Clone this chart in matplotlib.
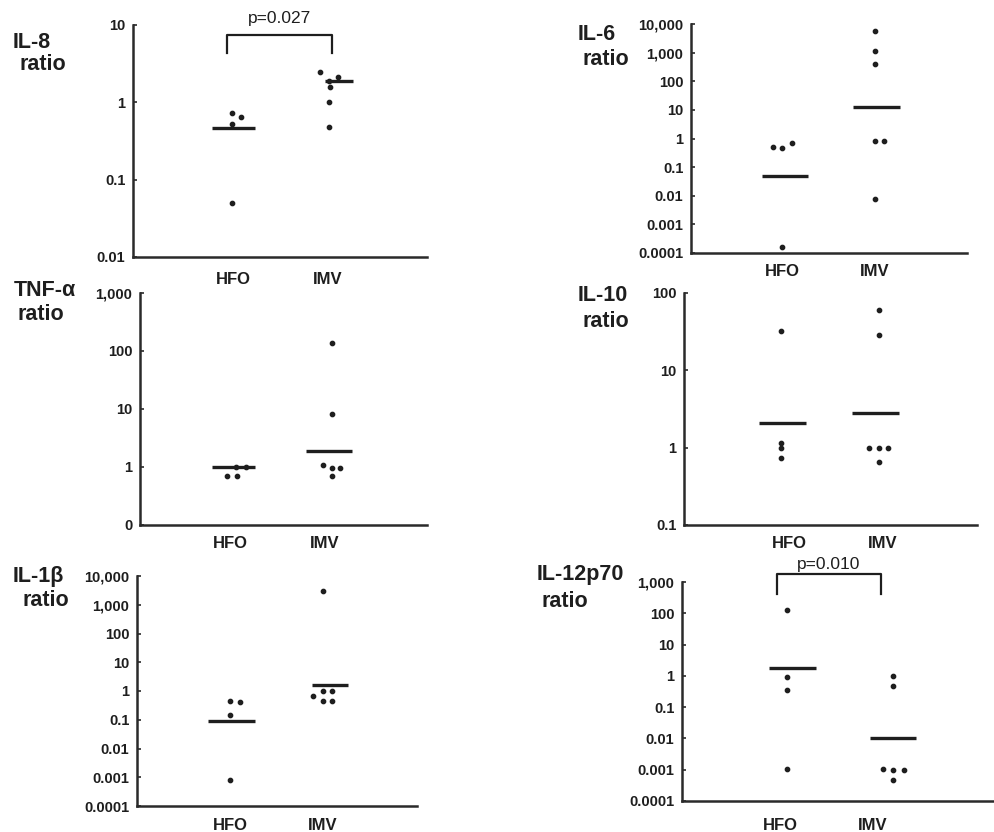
import matplotlib
matplotlib.use("Agg")
import matplotlib.pyplot as plt
from matplotlib.ticker import FixedLocator, FixedFormatter, NullLocator

plt.rcParams['font.family'] = ['Liberation Sans', 'DejaVu Sans']

W, H = 995, 832
groups = ["HFO", "IMV"]

# ---- data: individual ratios and group medians ----
il8_hfo = [0.72, 0.65, 0.53, 0.05]
il8_imv = [2.5, 2.1, 1.9, 1.6, 1.0, 0.48]
il8_med = [0.46, 1.89]

il6_hfo = [0.52, 0.48, 0.67, 0.00016]
il6_imv = [5700, 1170, 410, 0.79, 0.79, 0.0079]
il6_med = [0.049, 12.6]

tnf_hfo = [1.0, 1.0, 0.70, 0.70]
tnf_imv = [137, 8.2, 1.1, 0.95, 0.95, 0.70]
tnf_med = [1.0, 1.89]

il10_hfo = [32, 1.16, 1.0, 0.74]
il10_imv = [60, 28.5, 1.0, 1.0, 1.0, 0.66]
il10_med = [2.1, 2.77]

il1b_hfo = [0.45, 0.41, 0.15, 0.0008]
il1b_imv = [3080, 1.0, 1.0, 0.67, 0.46, 0.46]
il1b_med = [0.092, 1.6]

il12_hfo = [125, 0.95, 0.36, 0.00108]
il12_imv = [1.0, 0.48, 0.00108, 0.001, 0.001, 0.00048]
il12_med = [1.8, 0.01]

ticks_4to4 = [1e-4, 1e-3, 1e-2, 1e-1, 1, 10, 100, 1000, 10000]
labels_4to4 = ["0.0001", "0.001", "0.01", "0.1", "1", "10", "100", "1,000", "10,000"]
ticks_il8 = [0.01, 0.1, 1, 10]
labels_il8 = ["0.01", "0.1", "1", "10"]
ticks_tnf = [0.1, 1, 10, 100, 1000]
labels_tnf = ["0", "1", "10", "100", "1,000"]
ticks_il10 = [0.1, 1, 10, 100]
labels_il10 = ["0.1", "1", "10", "100"]
ticks_il12 = [1e-4, 1e-3, 1e-2, 1e-1, 1, 10, 100, 1000]
labels_il12 = ["0.0001", "0.001", "0.01", "0.1", "1", "10", "100", "1,000"]

p_il8 = "p=0.027"
p_il12 = "p=0.010"

# ---- layout (pixels) ----
panels = [
    dict(name="IL-8", box=(133, 427, 25, 257), cx=(233, 328),
         hfo=il8_hfo, imv=il8_imv, med=il8_med,
         dx_h=[-1, 8, -1, -1], dx_i=[-8, 10, 1, 2, 1, 1],
         line_h=(212, 255), line_i=(325, 353),
         ylim=(0.01, 10), ticks=ticks_il8, tlabels=labels_il8,
         title_pos=(13, 48), ratio_pos=(20, 70), xl_off=23),
    dict(name="IL-6", box=(691, 967, 24, 253), cx=(782, 875),
         hfo=il6_hfo, imv=il6_imv, med=il6_med,
         dx_h=[-9, 0, 10, 0], dx_i=[0, 0, 0, 0, 9, 0],
         line_h=(762, 808), line_i=(853, 900),
         ylim=(1e-4, 1e4), ticks=ticks_4to4, tlabels=labels_4to4,
         title_pos=(578, 40), ratio_pos=(583, 65), xl_off=19),
    dict(name="TNF-α", box=(140, 427, 293, 525), cx=(230, 325),
         hfo=tnf_hfo, imv=tnf_imv, med=tnf_med,
         dx_h=[6, 16, -3, 7], dx_i=[7, 7, -2, 7, 15, 7],
         line_h=(212, 255), line_i=(306, 352),
         ylim=(0.1, 1000), ticks=ticks_tnf, tlabels=labels_tnf,
         title_pos=(14, 296), ratio_pos=(18, 320), xl_off=18),
    dict(name="IL-10", box=(684, 977, 293, 525), cx=(789, 883),
         hfo=il10_hfo, imv=il10_imv, med=il10_med,
         dx_h=[-8, -8, -8, -8], dx_i=[-4, -4, -14, -4, 5, -4],
         line_h=(759, 806), line_i=(852, 899),
         ylim=(0.1, 100), ticks=ticks_il10, tlabels=labels_il10,
         title_pos=(578, 301), ratio_pos=(583, 327), xl_off=18),
    dict(name="IL-1β", box=(137, 417, 576, 806), cx=(230, 323),
         hfo=il1b_hfo, imv=il1b_imv, med=il1b_med,
         dx_h=[0, 10, 0, 0], dx_i=[0, 0, 9, -10, 0, 9],
         line_h=(208, 255), line_i=(312, 348),
         ylim=(1e-4, 1e4), ticks=ticks_4to4, tlabels=labels_4to4,
         title_pos=(13, 582), ratio_pos=(22, 606), xl_off=20),
    dict(name="IL-12p70", box=(682, 995, 582, 801), cx=(780, 873),
         hfo=il12_hfo, imv=il12_imv, med=il12_med,
         dx_h=[7, 7, 7, 7], dx_i=[20, 20, 10, 20, 31, 20],
         line_h=(769, 816), line_i=(870, 916),
         ylim=(1e-4, 1e3), ticks=ticks_il12, tlabels=labels_il12,
         title_pos=(537, 580), ratio_pos=(542, 607), xl_off=24),
]

ink = "#1e1e1e"
fig = plt.figure(figsize=(W / 100, H / 100), dpi=100)
fig.patch.set_facecolor("white")

axes = []
for p in panels:
    L, R, T, B = p["box"]
    ax = fig.add_axes([L / W, 1 - B / H, (R - L) / W, (B - T) / H])
    axes.append(ax)
    hx, ix = p["cx"]
    unit = ix - hx
    ax.set_xlim((L - hx) / unit, 1 + (R - ix) / unit)
    ax.set_yscale("log")
    ax.set_ylim(*p["ylim"])
    ax.yaxis.set_major_locator(FixedLocator(p["ticks"]))
    ax.yaxis.set_major_formatter(FixedFormatter(p["tlabels"]))
    ax.yaxis.set_minor_locator(NullLocator())
    ax.set_xticks([])
    for s in ("top", "right"):
        ax.spines[s].set_visible(False)
    for s in ("left", "bottom"):
        ax.spines[s].set_linewidth(1.8)
        ax.spines[s].set_color("#2a2a2a")
    ax.tick_params(axis="y", direction="in", length=3, width=1.2, color="#2a2a2a",
                   pad=5.5, labelsize=10.5, labelcolor=ink)
    for lab in ax.get_yticklabels():
        lab.set_fontweight("bold")
    ax.patch.set_alpha(0)

    # individual points
    for gi, (vals, dxs) in enumerate(((p["hfo"], p["dx_h"]), (p["imv"], p["dx_i"]))):
        xs = [gi + d / unit for d in dxs]
        ax.plot(xs, vals, linestyle="none", marker="o", ms=3.1,
                mfc=ink, mec=ink, clip_on=False, zorder=3)
    # medians
    for gi, (x0, x1), c in ((0, p["line_h"], hx), (1, p["line_i"], ix)):
        ax.plot([gi + (x0 - c) / unit, gi + (x1 - c) / unit],
                [p["med"][gi]] * 2, color=ink, lw=2.4, solid_capstyle="butt",
                clip_on=False, zorder=2)
    # group labels
    for gi, g in enumerate(groups):
        ax.annotate(g, xy=(gi, 0), xycoords=("data", "axes fraction"),
                    xytext=(0, -p["xl_off"] * 0.72), textcoords="offset points",
                    ha="center", va="center", fontsize=12, fontweight="bold",
                    color=ink)
    # panel title
    tx, ty = p["title_pos"]
    fig.text(tx / W, 1 - ty / H, p["name"], fontsize=15.5, fontweight="bold",
             color=ink, ha="left", va="baseline")
    rx, ry = p["ratio_pos"]
    fig.text(rx / W, 1 - ry / H, "ratio", fontsize=15.5, fontweight="bold",
             color=ink, ha="left", va="baseline")


def bracket(ax, p, x0px, x1px, ytop, ybot, label, ty):
    L, R, T, B = p["box"]
    hx, ix = p["cx"]
    unit = ix - hx
    tr = ax.get_xaxis_transform()
    xa = (x0px - hx) / unit
    xb = (x1px - hx) / unit
    fa = lambda y: (B - y) / (B - T)
    ax.plot([xa, xa, xb, xb], [fa(ybot), fa(ytop), fa(ytop), fa(ybot)],
            transform=tr, color=ink, lw=1.6, clip_on=False)
    ax.text((xa + xb) / 2, fa(ty), label, transform=tr, ha="center", va="center",
            fontsize=12.5, color=ink)


bracket(axes[0], panels[0], 227, 332, 35, 53, p_il8, 19)
bracket(axes[5], panels[5], 777, 881, 574, 594, p_il12, 565)

fig.savefig("out.png", dpi=100, facecolor="white")
